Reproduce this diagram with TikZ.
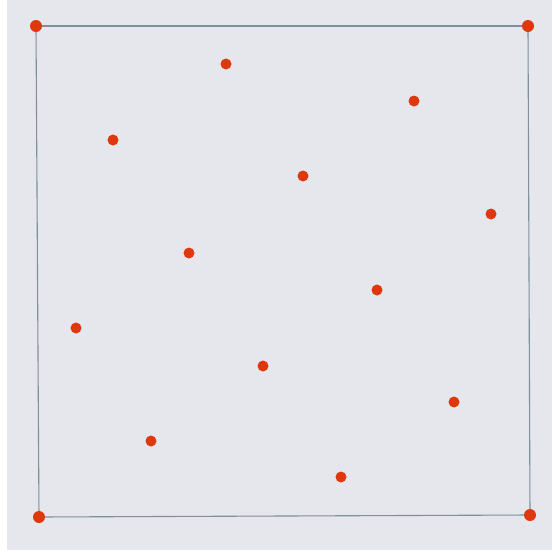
\documentclass[tikz,border=0pt]{standalone}
\usepackage{tikz}
\usetikzlibrary{positioning}
\definecolor{board}{HTML}{E5E7EC}
\definecolor{pin}{HTML}{E0380E}
\definecolor{frameline}{HTML}{7E909C}

\begin{document}
\begin{tikzpicture}[
  x=1pt, y=-1pt,
  corner/.style={circle, fill=pin, inner sep=0pt, minimum size=12pt},
  dot/.style={circle, fill=pin, inner sep=0pt, minimum size=11pt},
  edge/.style={draw=frameline, line width=1.1pt}
]

% Canvas
\useasboundingbox (0,0) rectangle (552,555);
\fill[white] (0,0) rectangle (552,555);
\fill[board] (7,0) rectangle (552,550);

% Corners
\node[corner] (tl) at (36,26)   {};
\node[corner] (tr) at (528,26)  {};
\node[corner] (bl) at (39,517)  {};
\node[corner] (br) at (530,515) {};

% Frame
\draw[edge] (tl) -- (tr);
\draw[edge] (tr) -- (br);
\draw[edge] (br) -- (bl);
\draw[edge] (bl) -- (tl);

% Points
\node[dot] (p1)  at (226,64)  {};
\node[dot] (p2)  at (414,101) {};
\node[dot] (p3)  at (113,140) {};
\node[dot] (p4)  at (303,176) {};
\node[dot] (p5)  at (491,214) {};
\node[dot] (p6)  at (189,253) {};
\node[dot] (p7)  at (377,290) {};
\node[dot] (p8)  at (76,328)  {};
\node[dot] (p9)  at (263,366) {};
\node[dot] (p10) at (454,402) {};
\node[dot] (p11) at (151,441) {};
\node[dot] (p12) at (341,477) {};

\end{tikzpicture}
\end{document}
